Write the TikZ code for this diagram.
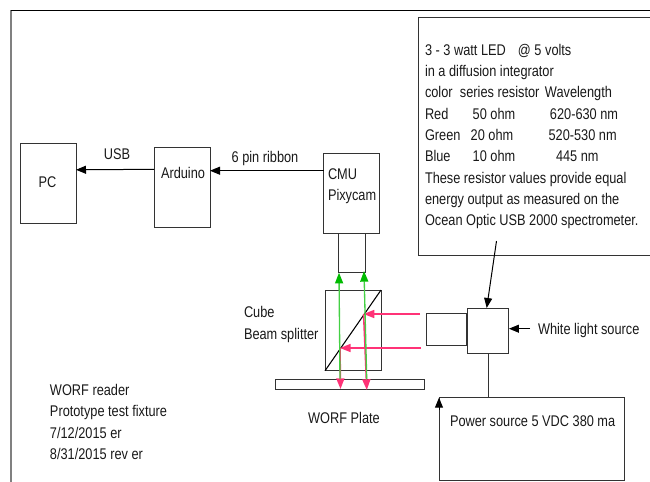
\documentclass[tikz,border=0pt]{standalone}
\usepackage{fontspec}
\setmainfont[FakeStretch=0.825]{Liberation Sans}
\usetikzlibrary{arrows.meta}
\definecolor{lin}{HTML}{333333}
\definecolor{rayred}{HTML}{FF3377}
\definecolor{raygreen}{HTML}{44D044}
\definecolor{tipgreen}{HTML}{00BB00}
\newcommand{\colat}[2]{\makebox[\dimexpr #1pt*3/4\relax][l]{#2}}
\tikzset{
  x=0.75pt,y=-0.75pt,
  rbox/.style 2 args={draw=lin,line width=0.75pt,minimum width=#1*0.75pt,minimum height=#2*0.75pt,inner sep=0pt,outer sep=0pt},
  conn/.style={draw=black,line width=0.75pt,-{Triangle[length=7.5pt,width=6pt]}},
  plainconn/.style={draw=lin,line width=0.75pt},
  redray/.style={draw=rayred,line width=1.2pt,-{Triangle[length=8pt,width=6pt]}},
  greenray/.style={draw=raygreen,line width=1pt,-{Triangle[length=8pt,width=6pt,color=tipgreen]}},
  lab/.style={font=\fontsize{11.6pt}{16pt}\selectfont,text=black!90,inner sep=0pt,outer sep=0pt},
  leftlab/.style={lab,anchor=west,align=left},
}
\begin{document}
\begin{tikzpicture}
\path[use as bounding box,clip] (0,0) rectangle (650,482);
% frame
\coordinate (frameA) at (10.5,482);
\coordinate (frameB) at (10.5,10.5);
\coordinate (frameC) at (650,10.5);
\draw[draw=black!50,line width=1.5pt] (frameA) -- (10.5,10);
\draw[draw=black,line width=0.8pt] (frameB) -- (frameC);
% boxes
\node[rbox={56}{80}] (pc) at (48,183) {};
\node[rbox={56}{80.5}] (ard) at (182,187.7) {};
\node[rbox={56}{80.5}] (cmu) at (351.7,193.7) {};
\node[rbox={27}{39}] (lens) at (351.7,253.4) {};
\node[rbox={56}{80.7}] (cube) at (353,330.4) {};
\node[rbox={149}{10}] (plate) at (349.5,384) {};
\node[rbox={40}{32.5}] (coll) at (446.3,329.5) {};
\node[rbox={41.5}{45}] (src) at (488.2,330.5) {};
\node[rbox={185}{83}] (pwr) at (531.5,439.2) {};
\node[rbox={240}{238.5}] (note) at (538.3,136.7) {};
% labels
\node[lab] (tpc) at (47.5,182) {PC};
\node[lab] (tard) at (183,173) {Arduino};
\node[lab] (tusb) at (117,154) {USB};
\node[lab] (trib) at (265,158.5) {6 pin ribbon};
\node[leftlab] (tcmu) at (328,186.5) {CMU\\Pixycam};
\node[leftlab] (tcube) at (244,324.5) {Cube\\Beam splitter};
\node[lab] (tworf) at (344,418) {WORF Plate};
\node[leftlab] (twhite) at (538,330) {White light source};
\node[leftlab] (tpwr) at (450,421) {Power source 5 VDC 380 ma};
\node[leftlab] (tinfo) at (50,422) {WORF reader\\Prototype test fixture\\7/12/2015 er\\8/31/2015 rev er};
\node[leftlab] (tnote) at (425,136.5) {\colat{93}{3 - 3 watt LED}@ 5 volts\\
in a diffusion integrator\\
\colat{35}{color}\colat{85}{series resistor}Wavelength\\
\colat{47.7}{Red}\colat{77.3}{50 ohm}620-630 nm\\
\colat{45.7}{Green}\colat{77.9}{20 ohm}520-530 nm\\
\colat{47.7}{Blue}\colat{83.3}{10 ohm}445 nm\\
These resistor values provide equal\\
energy output as measured on the\\
Ocean Optic USB 2000 spectrometer.};
% connectors
\draw[conn] (ard.west |- 0,169.3) -- (pc.east |- 0,169.8);
\draw[conn] (cmu.west |- 0,170.7) -- (ard.east |- 0,170.7);
\coordinate (noteEnd) at (496.5,241);
\draw[conn] (noteEnd) -- (src.north -| 486.7,0);
\coordinate (whiteEnd) at (530,328.7);
\draw[conn] (whiteEnd) -- (src.east |- 0,328.7);
\draw[plainconn] (src.south) -- (pwr.north -| src.south);
\coordinate (pwrTail) at (439,410);
\draw[conn] (pwrTail) -- (pwr.north west);
% splitter
\draw[draw=black,line width=0.8pt] (cube.south west) -- (cube.north east);
% rays
\coordinate (redA) at (420,314);
\coordinate (redB) at (363.6,314);
\coordinate (redC) at (421,348);
\coordinate (redD) at (340,348);
\coordinate (redE) at (340.5,389);
\coordinate (redF) at (366.8,390);
\coordinate (greenA) at (340,379);
\coordinate (greenB) at (339,272.7);
\coordinate (greenC) at (366.7,379);
\coordinate (greenD) at (364,271);
\draw[redray] (redA) -- (redB);
\draw[redray] (redC) -- (redD);
\draw[redray] (redD) -- (redE);
\draw[redray] (redB) -- (redF);
\draw[greenray] (greenA) -- (greenB);
\draw[greenray] (greenC) -- (greenD);
\end{tikzpicture}
\end{document}
